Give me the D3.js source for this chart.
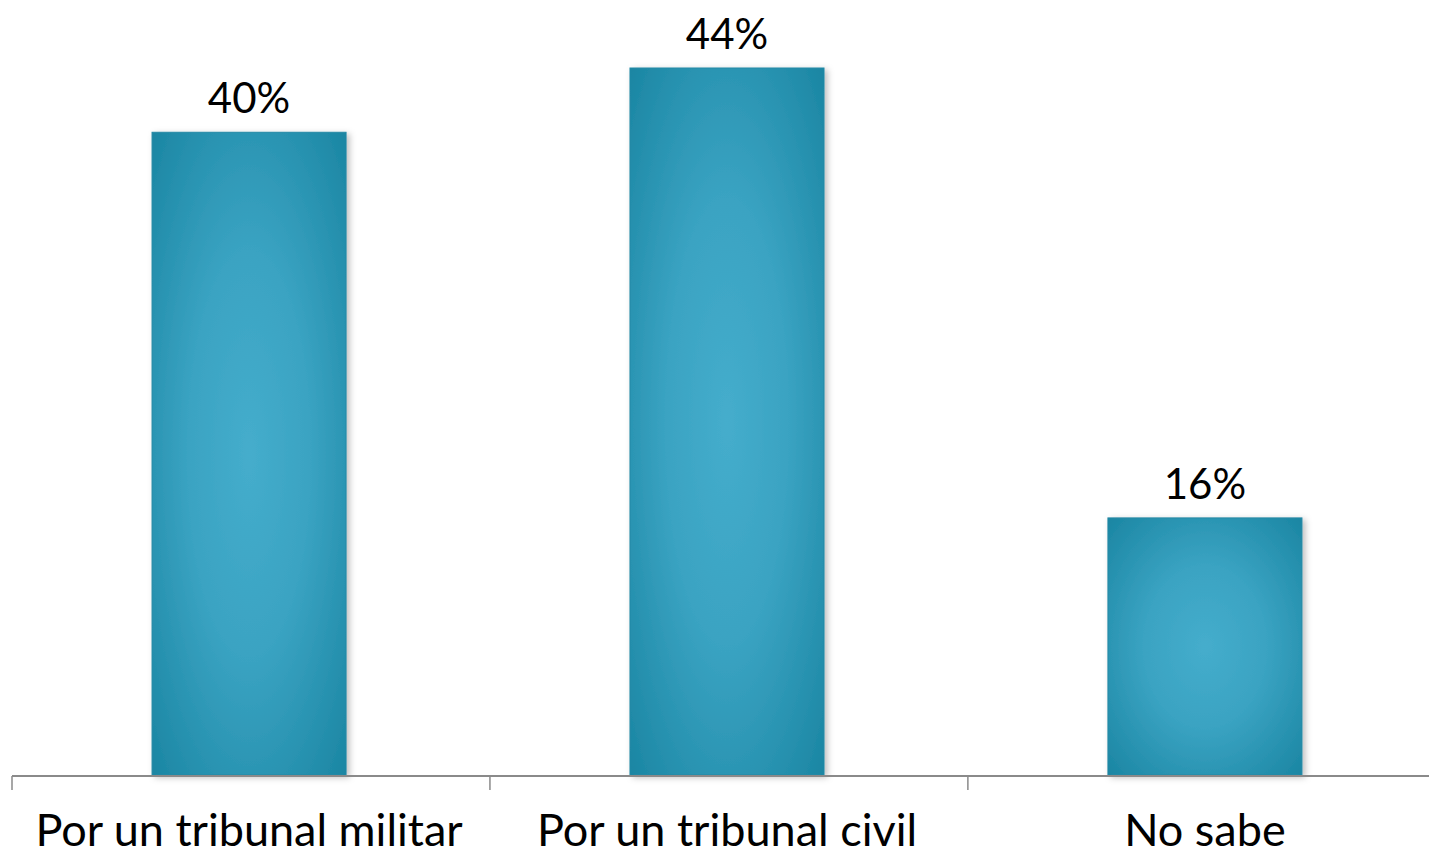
<!DOCTYPE html>
<html>
<head>
<meta charset="utf-8">
<script src="https://cdn.jsdelivr.net/npm/d3@7"></script>
<style>
  html, body { margin: 0; padding: 0; background: #fff; }
  svg { display: block; }
  text { font-family: "Lato", "Noto Sans", sans-serif; fill: #000; }
</style>
</head>
<body>
<svg id="chart" width="1429" height="855"></svg>
<script>
// Survey answers and their shares (percent)
const categories = ["Por un tribunal militar", "Por un tribunal civil", "No sabe"];
const values = [40, 44, 16];
const valueLabels = ["40%", "44%", "16%"];

const width = 1429, height = 855;
const baseY = 775;

const svg = d3.select("#chart");
const defs = svg.append("defs");

// Soft radial shading inside each bar: light centre, deeper teal edges
const grad = defs.append("radialGradient")
  .attr("id", "barFill")
  .attr("cx", "50%").attr("cy", "50%").attr("r", "70%");
grad.append("stop").attr("offset", "0%").attr("stop-color", "#45adcc");
grad.append("stop").attr("offset", "45%").attr("stop-color", "#3aa3c2");
grad.append("stop").attr("offset", "100%").attr("stop-color", "#1b86a3");

// Slight shadow to the lower right of the bars
const shadow = defs.append("filter").attr("id", "barShadow")
  .attr("x", "-10%").attr("y", "-5%").attr("width", "130%").attr("height", "115%");
shadow.append("feDropShadow")
  .attr("dx", 3).attr("dy", 2).attr("stdDeviation", 3)
  .attr("flood-color", "#000").attr("flood-opacity", 0.25);

const x = d3.scaleBand()
  .domain(categories)
  .range([12, 1442])
  .paddingInner(0.594)
  .paddingOuter(0.293);

const y = d3.scaleLinear()
  .domain([0, 44])
  .range([baseY, 68]);

const data = categories.map((c, i) => ({ cat: c, value: values[i], label: valueLabels[i] }));

// Bars
svg.append("g")
  .selectAll("rect")
  .data(data)
  .join("rect")
  .attr("x", d => x(d.cat))
  .attr("y", d => y(d.value))
  .attr("width", x.bandwidth())
  .attr("height", d => y(0) - y(d.value))
  .attr("fill", "url(#barFill)")
  .attr("stroke", "#2589a5")
  .attr("stroke-width", 1)
  .attr("filter", "url(#barShadow)");

// Category axis: baseline with ticks at band boundaries
const axisG = svg.append("g").attr("class", "x-axis");
axisG.append("line")
  .attr("x1", 12).attr("x2", width)
  .attr("y1", baseY + 1).attr("y2", baseY + 1)
  .attr("stroke", "#8a8a8a").attr("stroke-width", 2);

const step = x.step();
const x0 = x(categories[0]) - x.paddingOuter() * step;
axisG.selectAll("line.tick")
  .data(d3.range(categories.length + 1).map(i => x0 + i * step))
  .join("line")
  .attr("class", "tick")
  .attr("x1", d => d).attr("x2", d => d)
  .attr("y1", baseY + 1).attr("y2", baseY + 15)
  .attr("stroke", "#8a8a8a").attr("stroke-width", 1.5);

// Category labels
axisG.selectAll("text")
  .data(data)
  .join("text")
  .attr("x", d => x(d.cat) + x.bandwidth() / 2)
  .attr("y", 846)
  .attr("text-anchor", "middle")
  .attr("font-size", 45)
  .text(d => d.cat);

// Value labels above bars
svg.append("g")
  .selectAll("text")
  .data(data)
  .join("text")
  .attr("x", d => x(d.cat) + x.bandwidth() / 2)
  .attr("y", d => y(d.value) - 19)
  .attr("text-anchor", "middle")
  .attr("font-size", 42)
  .text(d => d.label);
</script>
</body>
</html>
